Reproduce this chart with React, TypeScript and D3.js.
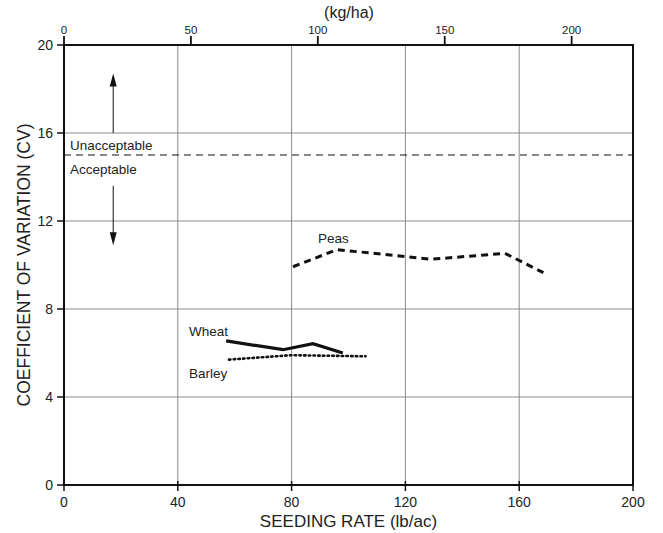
import React from "react";
import * as d3 from "d3";

const W = 663;
const H = 533;

const xTicksLb = [0, 40, 80, 120, 160, 200];
const xTicksKg = [0, 50, 100, 150, 200];
const yTicks = [0, 4, 8, 12, 16, 20];
const KG_PER_LB_AC = 1.12085;

const wheatRate = [57, 77, 87.5, 98];
const wheatCV = [6.55, 6.15, 6.42, 6.0];

const barleyRate = [58, 80, 106];
const barleyCV = [5.7, 5.9, 5.85];

const peasRate = [80.5, 96, 129, 155, 168.5];
const peasCV = [9.92, 10.7, 10.26, 10.53, 9.65];

const threshold = 15;

const FONT = "'Liberation Sans', Arial, Helvetica, sans-serif";

export default function App() {
  const left = 64, right = 633, top = 45, bottom = 485;
  const x = d3.scaleLinear().domain([0, 200]).range([left, right]);
  const xKg = d3.scaleLinear().domain([0, 200 * KG_PER_LB_AC]).range([left, right]);
  const y = d3.scaleLinear().domain([0, 20]).range([bottom, top]);

  const line = d3
    .line<[number, number]>()
    .x((d) => x(d[0]))
    .y((d) => y(d[1]));

  const wheat = wheatRate.map((r, i) => [r, wheatCV[i]] as [number, number]);
  const barley = barleyRate.map((r, i) => [r, barleyCV[i]] as [number, number]);
  const peas = peasRate.map((r, i) => [r, peasCV[i]] as [number, number]);

  const ax = x(17.3);
  const upTip = y(18.7);
  const downTip = y(10.9);

  return (
    <svg width={W} height={H} style={{ position: "absolute", left: 0, top: 0, background: "#fff" }} fontFamily={FONT}>
      <rect width={W} height={H} fill="#fff" />
      {/* grid */}
      {xTicksLb.slice(1, -1).map((t) => (
        <line key={"gx" + t} x1={x(t)} x2={x(t)} y1={top} y2={bottom} stroke="#808080" strokeWidth={0.9} />
      ))}
      {yTicks.slice(1, -1).map((t) => (
        <line key={"gy" + t} x1={left} x2={right} y1={y(t)} y2={y(t)} stroke="#808080" strokeWidth={0.9} />
      ))}
      {/* threshold */}
      <line x1={left} x2={right} y1={y(threshold)} y2={y(threshold)} stroke="#111" strokeWidth={1.2} strokeDasharray="7,5" />
      <text x={70} y={y(threshold) - 5} fontSize={13.5} fill="#222">Unacceptable</text>
      <text x={70} y={y(threshold) + 19} fontSize={13.5} fill="#222">Acceptable</text>
      {/* arrows */}
      <line x1={ax} x2={ax} y1={y(16)} y2={upTip + 10} stroke="#111" strokeWidth={1} />
      <path d={`M${ax},${upTip} L${ax - 3.5},${upTip + 13} L${ax + 3.5},${upTip + 13} Z`} fill="#111" />
      <line x1={ax} x2={ax} y1={y(13.6)} y2={downTip - 10} stroke="#111" strokeWidth={1} />
      <path d={`M${ax},${downTip} L${ax - 3.5},${downTip - 13} L${ax + 3.5},${downTip - 13} Z`} fill="#111" />
      {/* frame */}
      <rect x={left} y={top} width={right - left} height={bottom - top} fill="none" stroke="#111" strokeWidth={2} />
      {/* bottom ticks */}
      {xTicksLb.map((t) => (
        <g key={"bx" + t}>
          <line x1={x(t)} x2={x(t)} y1={bottom - 4} y2={bottom + 6} stroke="#111" strokeWidth={1.5} />
          <text x={x(t)} y={bottom + 22} fontSize={14} textAnchor="middle" fill="#222">{t}</text>
        </g>
      ))}
      {/* top ticks */}
      {xTicksKg.map((t) => (
        <g key={"tx" + t}>
          <line x1={xKg(t)} x2={xKg(t)} y1={top} y2={top - 9} stroke="#111" strokeWidth={1.8} />
          <text x={xKg(t)} y={top - 11} fontSize={11.5} textAnchor="middle" fill="#222">{t}</text>
        </g>
      ))}
      {/* left ticks */}
      {yTicks.map((t) => (
        <g key={"ly" + t}>
          <line x1={left - 7} x2={left + 1} y1={y(t)} y2={y(t)} stroke="#111" strokeWidth={1.5} />
          <text x={left - 11} y={y(t) + 5} fontSize={14} textAnchor="end" fill="#222">{t}</text>
        </g>
      ))}
      {/* axis titles */}
      <text x={(left + right) / 2} y={527} fontSize={17} textAnchor="middle" fill="#222">SEEDING RATE (lb/ac)</text>
      <text x={349} y={18} fontSize={16} textAnchor="middle" fill="#222">(kg/ha)</text>
      <text transform={`translate(30,${(top + bottom) / 2}) rotate(-90)`} fontSize={17.5} textAnchor="middle" fill="#222">COEFFICIENT OF VARIATION (CV)</text>
      {/* series */}
      <path d={line(peas) ?? ""} fill="none" stroke="#111" strokeWidth={3} strokeDasharray="7,5" />
      <path d={line(wheat) ?? ""} fill="none" stroke="#111" strokeWidth={3.2} />
      <path d={line(barley) ?? ""} fill="none" stroke="#111" strokeWidth={2.6} strokeDasharray="1.5,3.2" strokeLinecap="round" />
      <text x={318} y={243} fontSize={13.5} fill="#222">Peas</text>
      <text x={189} y={336} fontSize={13.5} fill="#222">Wheat</text>
      <text x={189} y={378} fontSize={13.5} fill="#222">Barley</text>
    </svg>
  );
}
